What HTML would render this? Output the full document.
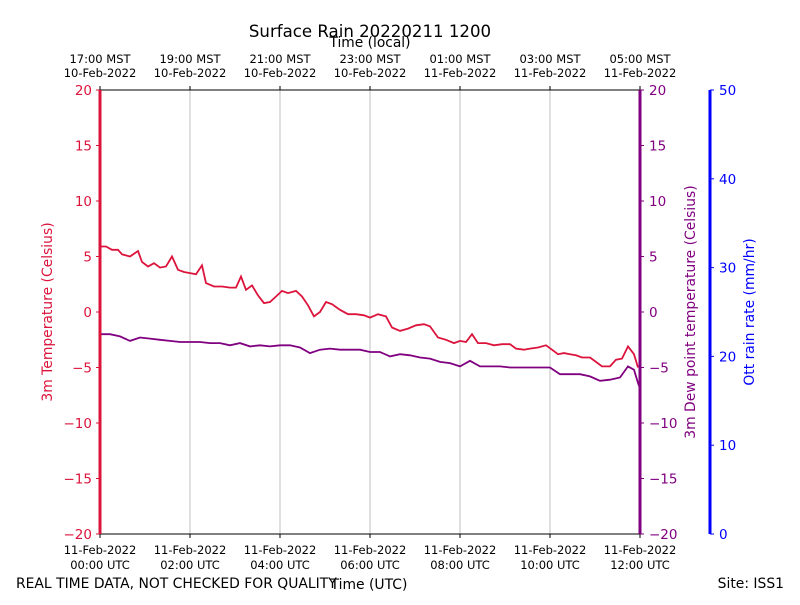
<!DOCTYPE html>
<html><head><meta charset="utf-8"><style>
body{margin:0;background:#fff}
svg{font-family:"DejaVu Sans","Liberation Sans",sans-serif}
</style></head><body>
<svg id="c" width="800" height="600" viewBox="0 0 800 600"></svg>
<script>
// time in units of 4/3 minute (540 units = 12 h)
const tempT=[0,6,12,18,22,30,38,42,48,54,60,66,72,78,84,90,96,102,106,114,122,130,136,141,146,152,158,164,170,176,182,188,196,202,208,214,220,226,232,240,248,256,264,270,278,286,292,300,308,316,324,330,338,346,354,360,366,372,378,386,394,402,410,416,424,430,438,446,452,458,464,470,476,482,490,496,502,510,516,522,528,534,538];
const tempVal=[5.9,5.9,5.6,5.6,5.2,5.0,5.5,4.5,4.1,4.4,4.0,4.1,5.0,3.8,3.6,3.5,3.4,4.2,2.6,2.3,2.3,2.2,2.2,3.2,2.0,2.4,1.5,0.8,0.9,1.4,1.9,1.7,1.9,1.4,0.6,-0.4,0.0,0.9,0.7,0.2,-0.2,-0.2,-0.3,-0.5,-0.2,-0.4,-1.4,-1.7,-1.5,-1.2,-1.1,-1.3,-2.3,-2.5,-2.8,-2.6,-2.7,-2.0,-2.8,-2.8,-3.0,-2.9,-2.9,-3.3,-3.4,-3.3,-3.2,-3.0,-3.4,-3.8,-3.7,-3.8,-3.9,-4.1,-4.1,-4.5,-4.9,-4.9,-4.3,-4.2,-3.1,-3.8,-5.0];
const dewT=[0,10,20,30,40,50,60,70,80,90,100,110,120,130,140,150,160,170,180,190,200,210,220,230,240,250,260,270,280,290,300,310,320,330,340,350,360,370,380,390,400,410,420,430,440,450,460,470,480,490,500,510,520,528,534,538,540];
const dewVal=[-2.0,-2.0,-2.2,-2.6,-2.3,-2.4,-2.5,-2.6,-2.7,-2.7,-2.7,-2.8,-2.8,-3.0,-2.8,-3.1,-3.0,-3.1,-3.0,-3.0,-3.2,-3.7,-3.4,-3.3,-3.4,-3.4,-3.4,-3.6,-3.6,-4.0,-3.8,-3.9,-4.1,-4.2,-4.5,-4.6,-4.9,-4.4,-4.9,-4.9,-4.9,-5.0,-5.0,-5.0,-5.0,-5.0,-5.6,-5.6,-5.6,-5.8,-6.2,-6.1,-5.9,-4.9,-5.2,-6.4,-6.9];
const leftTicks=[-20,-15,-10,-5,0,5,10,15,20];
const rainTicks=[0,10,20,30,40,50];
const topLabels=[["17:00 MST","10-Feb-2022"],["19:00 MST","10-Feb-2022"],["21:00 MST","10-Feb-2022"],["23:00 MST","10-Feb-2022"],["01:00 MST","11-Feb-2022"],["03:00 MST","11-Feb-2022"],["05:00 MST","11-Feb-2022"]];
const botLabels=[["11-Feb-2022","00:00 UTC"],["11-Feb-2022","02:00 UTC"],["11-Feb-2022","04:00 UTC"],["11-Feb-2022","06:00 UTC"],["11-Feb-2022","08:00 UTC"],["11-Feb-2022","10:00 UTC"],["11-Feb-2022","12:00 UTC"]];

const X0=100,X1=640,Y0=534,Y1=90;
const xt=t=>X0+t/540*(X1-X0);
const yv=v=>Y0-(v+20)/40*(Y0-Y1);
const yr=v=>Y0-v/50*(Y0-Y1);
const svg=document.getElementById('c');
const NS='http://www.w3.org/2000/svg';
function mk(t,a,txt){const e=document.createElementNS(NS,t);for(const k in a)e.setAttribute(k,a[k]);if(txt!=null)e.textContent=txt;svg.appendChild(e);return e;}

for(let i=1;i<6;i++){const g=mk('line',{x1:xt(i*90),x2:xt(i*90),y1:Y1,y2:Y0,stroke:'#b0b0b0','stroke-width':0.8});
}

const tp=tempT.map((t,i)=>xt(t).toFixed(1)+','+yv(tempVal[i]).toFixed(1)).join(' ');
const tl=mk('polyline',{points:tp,fill:'none',stroke:'#dc143c','stroke-width':1.8});

const dp=dewT.map((t,i)=>xt(t).toFixed(1)+','+yv(dewVal[i]).toFixed(1)).join(' ');
const dl=mk('polyline',{points:dp,fill:'none',stroke:'#800080','stroke-width':1.8});


mk('line',{x1:X0,x2:X1,y1:Y1,y2:Y1,stroke:'#000','stroke-width':1});
mk('line',{x1:X0,x2:X1,y1:Y0,y2:Y0,stroke:'#000','stroke-width':1});
const ls=mk('line',{x1:X0,x2:X0,y1:Y1,y2:Y0,stroke:'#dc143c','stroke-width':3});

const rs=mk('line',{x1:X1,x2:X1,y1:Y1,y2:Y0,stroke:'#800080','stroke-width':3});

const bs=mk('line',{x1:710,x2:710,y1:Y1,y2:Y0,stroke:'#0000ff','stroke-width':3});


leftTicks.forEach(v=>{const y=yv(v);const s=v<0?'\u2212'+(-v):''+v;
mk('line',{x1:X0-4,x2:X0,y1:y,y2:y,stroke:'#dc143c'});
const a=mk('text',{x:X0-8,y:y+5,'text-anchor':'end','font-size':13.5,fill:'#dc143c'},s);

mk('line',{x1:X1,x2:X1+4,y1:y,y2:y,stroke:'#800080'});
const b=mk('text',{x:X1+9,y:y+5,'font-size':13.5,fill:'#800080'},s);
});
rainTicks.forEach(v=>{const y=yr(v);
mk('line',{x1:710,x2:714,y1:y,y2:y,stroke:'#0000ff'});
const t=mk('text',{x:719,y:y+5,'font-size':13.5,fill:'#0000ff'},''+v);
});
topLabels.forEach((l,i)=>{const x=xt(i*90);
mk('line',{x1:x,x2:x,y1:Y1-4,y2:Y1,stroke:'#000'});
const a=mk('text',{x:x,y:63,'text-anchor':'middle','font-size':11.5},l[0]);

mk('text',{x:x,y:77,'text-anchor':'middle','font-size':11.5},l[1]);});
botLabels.forEach((l,i)=>{const x=xt(i*90);
mk('line',{x1:x,x2:x,y1:Y0,y2:Y0+4,stroke:'#000'});
const a=mk('text',{x:x,y:554,'text-anchor':'middle','font-size':11.5},l[0]);

mk('text',{x:x,y:569,'text-anchor':'middle','font-size':11.5},l[1]);});

function lab(name,a,txt){const e=mk('text',a,txt);}
lab('chart-title',{x:370,y:37,'text-anchor':'middle','font-size':16.6},'Surface Rain 20220211 1200');
lab('top-axis-title',{x:370,y:47,'text-anchor':'middle','font-size':13.8},'Time (local)');
lab('x-axis-title',{x:369,y:589,'text-anchor':'middle','font-size':13.9},'Time (UTC)');
lab('footer-note',{x:16,y:588,'font-size':13.9},'REAL TIME DATA, NOT CHECKED FOR QUALITY');
lab('site-label',{x:784,y:588,'text-anchor':'end','font-size':13.9},'Site: ISS1');
lab('left-axis-title',{x:52,y:312,'text-anchor':'middle','font-size':13.9,fill:'#dc143c',transform:'rotate(-90 52 312)'},'3m Temperature (Celsius)');
lab('right-axis-title',{x:695,y:312,'text-anchor':'middle','font-size':13.9,fill:'#800080',transform:'rotate(-90 695 312)'},'3m Dew point temperature (Celsius)');
lab('rain-axis-title',{x:754,y:312,'text-anchor':'middle','font-size':13.9,fill:'#0000ff',transform:'rotate(-90 754 312)'},'Ott rain rate (mm/hr)');
</script>
</body></html>
